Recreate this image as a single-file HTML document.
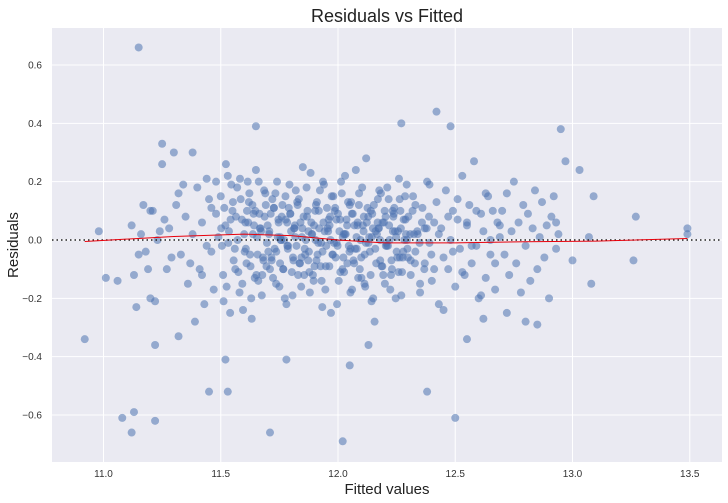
<!DOCTYPE html>
<html><head><meta charset="utf-8">
<style>
html,body{margin:0;padding:0;background:#fff;}
svg{display:block;font-family:"Liberation Sans","DejaVu Sans",sans-serif;}
</style></head>
<body>
<svg id="chart" width="728" height="503" viewBox="0 0 728 503" xmlns="http://www.w3.org/2000/svg">
<rect x="52" y="28" width="670" height="434" fill="#eaeaf2"/>
<g id="grid"></g>
<g id="ticks"></g>
<g id="pts"></g>
<g id="lines"></g>
<text x="387" y="22" text-anchor="middle" font-size="18" fill="#222">Residuals vs Fitted</text>
<text x="387" y="494" text-anchor="middle" font-size="15" fill="#222">Fitted values</text>
<text x="18" y="245" text-anchor="middle" font-size="15" fill="#222" transform="rotate(-90 18 245)">Residuals</text>
</svg>
<script>
const xTicks = [11.0, 11.5, 12.0, 12.5, 13.0, 13.5];
const xTickLabels = ["11.0", "11.5", "12.0", "12.5", "13.0", "13.5"];
const yTicks = [-0.6, -0.4, -0.2, 0.0, 0.2, 0.4, 0.6];
const yTickLabels = ["\u22120.6", "\u22120.4", "\u22120.2", "0.0", "0.2", "0.4", "0.6"];
const fitted = [
11.15,10.92,11.08,11.13,11.12,11.22,11.45,11.53,11.71,12.02,12.38,12.50,12.05,11.52,11.78,12.13,11.22,11.32,11.14,11.22,
10.98,11.01,11.06,11.13,11.25,11.30,11.38,11.65,12.27,12.42,12.48,12.95,13.03,12.97,13.27,13.26,13.49,13.49,13.09,13.08,
13.00,13.07,12.93,12.85,12.80,12.55,12.62,12.72,11.25,
11.31,11.33,11.35,11.36,11.38,11.40,11.41,11.42,11.43,11.44,11.45,11.46,11.47,11.48,11.49,11.34,11.37,11.39,11.42,11.46,
11.28,11.29,11.32,11.44,11.48,11.27,11.26,11.24,11.20,11.18,
11.50,11.51,11.52,11.53,11.54,11.55,11.56,11.57,11.58,11.59,11.60,11.61,11.62,11.63,11.64,11.65,11.66,11.67,11.68,11.69,
11.505,11.515,11.525,11.535,11.545,11.555,11.565,11.575,11.585,11.595,11.605,11.615,11.625,11.635,11.645,11.655,11.665,11.675,11.685,11.695,
11.502,11.512,11.522,11.532,11.542,11.552,11.562,11.572,11.582,11.592,11.602,11.612,11.622,11.632,11.642,11.652,11.662,11.672,11.682,11.692,
11.70,11.71,11.72,11.73,11.74,11.75,11.76,11.77,11.78,11.79,11.80,11.81,11.82,11.83,11.84,11.85,11.86,11.87,11.88,11.89,
11.90,11.91,11.92,11.93,11.94,11.95,11.96,11.97,11.98,11.99,12.00,12.01,12.02,12.03,12.04,12.05,12.06,12.07,12.08,12.09,
12.10,12.11,12.12,12.13,12.14,12.15,12.16,12.17,12.18,12.19,12.20,12.21,12.22,12.23,12.24,12.25,12.26,12.27,12.28,12.29,
11.703,11.713,11.723,11.733,11.743,11.753,11.763,11.773,11.783,11.793,11.803,11.813,11.823,11.833,11.843,11.853,11.863,11.873,11.883,11.893,
11.903,11.913,11.923,11.933,11.943,11.953,11.963,11.973,11.983,11.993,12.003,12.013,12.023,12.033,12.043,12.053,12.063,12.073,12.083,12.093,
12.103,12.113,12.123,12.133,12.143,12.153,12.163,12.173,12.183,12.193,12.203,12.213,12.223,12.233,12.243,12.253,12.263,12.273,12.283,12.293,
11.706,11.716,11.726,11.736,11.746,11.756,11.766,11.776,11.786,11.796,11.806,11.816,11.826,11.836,11.846,11.856,11.866,11.876,11.886,11.896,
11.906,11.916,11.926,11.936,11.946,11.956,11.966,11.976,11.986,11.996,12.006,12.016,12.026,12.036,12.046,12.056,12.066,12.076,12.086,12.096,
12.106,12.116,12.126,12.136,12.146,12.156,12.166,12.176,12.186,12.196,12.206,12.216,12.226,12.236,12.246,12.256,12.266,12.276,12.286,12.296,
12.30,12.31,12.32,12.33,12.34,12.35,12.36,12.37,12.38,12.39,12.40,12.41,12.42,12.43,12.44,12.45,12.46,12.47,12.48,12.49,
12.50,12.51,12.52,12.53,12.54,12.55,12.56,12.57,12.58,12.59,12.60,12.61,12.62,12.63,12.64,12.65,12.66,12.67,12.68,12.69,
12.31,12.33,12.35,12.37,12.39,12.41,12.43,12.45,12.47,12.49,12.51,12.53,12.55,12.57,12.59,12.61,12.63,12.65,12.67,12.69,
12.70,12.71,12.72,12.73,12.74,12.75,12.76,12.77,12.78,12.79,12.80,12.81,12.82,12.83,12.84,12.85,12.86,12.87,12.88,12.89,
12.90,12.91,12.92,12.93,12.94,
11.12,11.15,11.17,11.19,11.21,11.23,11.16,11.20,
11.607,11.617,11.627,11.637,11.647,11.657,11.667,11.677,11.687,11.697,11.707,11.717,11.727,11.737,11.747,11.757,11.767,11.777,11.787,11.797,
11.808,11.818,11.828,11.838,11.848,11.858,11.868,11.878,11.888,11.898,11.908,11.918,11.928,11.938,11.948,11.958,11.968,11.978,11.988,11.998,
12.009,12.019,12.029,12.039,12.049,12.059,12.069,12.079,12.089,12.099,12.109,12.119,12.129,12.139,12.149,12.159,12.169,12.179,12.189,12.199,
12.208,12.218,12.228,12.238,12.248,12.258,12.268,12.278,12.288,12.298,12.308,12.318,12.328,12.338,12.348,12.358,12.368,12.378,12.388,12.398,
11.754,11.784,11.814,11.844,11.874,11.904,11.934,11.964,11.994,12.024,12.054,12.084,12.114,12.144,12.174,12.204,12.234,12.264,12.294,12.324
];
const residuals = [
0.66,-0.34,-0.61,-0.59,-0.66,-0.62,-0.52,-0.52,-0.66,-0.69,-0.52,-0.61,-0.43,-0.41,-0.41,-0.36,-0.36,-0.33,-0.23,-0.21,
0.03,-0.13,-0.14,-0.12,0.26,0.30,0.30,0.39,0.40,0.44,0.39,0.38,0.24,0.27,0.08,-0.07,0.04,0.02,0.15,-0.15,
-0.07,0.01,0.06,-0.29,-0.28,-0.34,-0.27,-0.25,0.33,
0.12,-0.05,0.08,-0.15,0.02,0.18,-0.10,0.06,-0.22,0.21,0.14,-0.04,-0.17,0.09,0.01,0.19,-0.08,-0.28,-0.12,0.11,
0.04,-0.06,0.16,-0.02,0.20,-0.10,0.07,0.03,0.10,-0.04,
0.15,-0.12,0.05,0.22,-0.25,0.10,-0.03,0.18,-0.18,0.07,0.02,-0.08,0.13,-0.20,0.09,0.24,-0.14,0.04,-0.06,0.16,
-0.02,0.11,-0.16,0.03,0.19,-0.07,0.08,-0.11,0.14,-0.24,0.06,0.20,-0.05,0.12,-0.13,0.01,0.09,-0.19,0.17,-0.09,
0.04,-0.21,0.26,-0.01,0.07,0.13,-0.10,0.00,0.21,-0.15,-0.04,0.10,0.16,-0.27,0.05,-0.12,0.20,0.03,-0.07,0.12,
0.05,-0.10,0.14,-0.03,0.20,-0.16,0.08,0.00,-0.22,0.11,0.03,-0.07,0.17,-0.12,0.06,0.25,-0.05,0.10,-0.18,0.02,
-0.09,0.13,0.04,-0.14,0.19,-0.02,0.07,-0.25,0.15,-0.06,0.09,-0.11,0.01,0.22,-0.08,0.12,-0.17,0.05,-0.03,0.16,
-0.13,0.08,0.28,-0.01,0.10,-0.20,0.03,0.14,-0.07,0.06,-0.15,0.18,0.00,-0.10,0.11,-0.04,0.21,-0.19,0.07,0.02,
-0.04,0.09,-0.13,0.16,0.01,-0.08,0.12,-0.20,0.06,0.19,-0.11,0.04,-0.02,0.14,-0.16,0.08,0.00,-0.07,0.23,-0.12,
0.10,-0.05,0.17,-0.23,0.03,0.11,-0.09,0.15,-0.01,0.07,-0.14,0.20,-0.06,0.02,0.13,-0.18,0.09,-0.03,0.05,-0.10,
0.18,-0.15,0.06,0.01,-0.21,0.12,-0.08,0.04,0.16,-0.12,0.08,-0.02,-0.17,0.10,0.03,-0.06,0.14,-0.11,0.00,0.19,
0.02,-0.06,0.11,-0.15,0.07,0.00,-0.10,0.15,-0.03,0.09,-0.19,0.05,0.13,-0.08,0.01,-0.12,0.18,-0.04,0.06,-0.14,
0.12,-0.01,-0.09,0.20,-0.17,0.04,0.08,-0.05,0.10,-0.22,0.03,0.16,-0.11,0.07,-0.02,0.13,-0.07,0.24,-0.13,0.00,
0.05,-0.16,0.11,-0.04,0.09,-0.28,0.02,0.17,-0.09,0.06,-0.01,0.14,-0.12,0.08,-0.20,0.03,0.10,-0.06,0.15,-0.03,
0.08,-0.12,0.15,-0.04,0.02,-0.18,0.11,-0.08,0.20,-0.01,-0.14,0.06,0.13,-0.22,0.04,-0.06,0.17,-0.10,0.00,0.10,
-0.16,0.07,-0.03,0.22,-0.12,0.05,0.12,-0.08,0.27,-0.02,-0.20,0.09,0.03,-0.13,0.15,-0.05,0.10,-0.17,0.06,0.01,
-0.07,0.12,-0.15,0.04,0.19,-0.10,0.02,-0.24,0.08,-0.04,0.14,-0.11,0.06,-0.02,0.10,-0.19,0.16,0.00,-0.08,0.05,
0.10,-0.05,0.16,-0.12,0.03,0.20,-0.08,0.06,-0.18,0.12,-0.02,0.09,-0.14,0.04,0.17,-0.10,0.01,0.13,-0.06,0.05,
-0.20,0.08,0.15,-0.03,0.02,
0.05,-0.05,0.12,-0.10,0.10,0.00,0.02,-0.20,
-0.03,0.06,-0.09,0.02,0.10,-0.05,0.04,-0.12,0.08,-0.01,0.03,-0.07,0.11,-0.04,0.06,0.00,-0.10,0.07,-0.02,0.09,
-0.06,0.01,0.12,-0.08,0.04,-0.03,0.08,-0.11,0.02,0.05,-0.07,0.10,-0.01,0.06,-0.09,0.03,0.00,-0.05,0.11,-0.02,
0.07,-0.10,0.02,0.05,-0.04,0.09,-0.08,0.01,0.12,-0.06,0.03,-0.01,0.08,-0.12,0.04,-0.03,0.06,0.00,-0.09,0.10,
-0.02,0.05,-0.07,0.09,0.01,-0.11,0.04,-0.04,0.07,-0.06,0.02,0.10,-0.08,0.03,-0.01,0.06,-0.10,0.04,0.08,-0.05,
0.01,-0.02,0.04,-0.06,0.03,0.00,-0.04,0.05,-0.01,0.02,-0.03,0.06,-0.05,0.01,0.04,-0.02,0.03,-0.06,0.00,0.02
];
const lowessX = [10.92, 11.3, 11.6, 11.8, 12.0, 12.2, 12.5, 12.8, 13.1, 13.49];
const lowessY = [-0.005, 0.012, 0.02, 0.015, 0.0, -0.01, -0.01, -0.006, -0.004, 0.005];

const L=52,R=722,T=28,B=462;
const sx = v => 103.5 + (v - 11.0) * 234.5;
const sy = v => 240 - v * 291.7;
const NS="http://www.w3.org/2000/svg";
function mk(tag, attrs, parent){const e=document.createElementNS(NS,tag);for(const k in attrs)e.setAttribute(k,attrs[k]);parent.appendChild(e);return e;}
const grid=document.getElementById('grid'), ticks=document.getElementById('ticks');
xTicks.forEach((t,i)=>{
  const g=mk('line',{x1:sx(t),x2:sx(t),y1:T,y2:B,stroke:'#fff','stroke-width':1},grid);
  
  
  const tx=mk('text',{x:sx(t),y:B+15,'text-anchor':'middle','font-size':10,fill:'#333'},ticks);
  tx.textContent=xTickLabels[i];
  
  
});
yTicks.forEach((t,i)=>{
  const g=mk('line',{x1:L,x2:R,y1:sy(t),y2:sy(t),stroke:'#fff','stroke-width':1},grid);
  
  
  const tx=mk('text',{x:L-10,y:sy(t)+3.5,'text-anchor':'end','font-size':10,fill:'#333'},ticks);
  tx.textContent=yTickLabels[i];
  
  
});
const pts=document.getElementById('pts');
for(let i=0;i<fitted.length;i++){
  const c=mk('circle',{cx:sx(fitted[i]),cy:sy(residuals[i]),r:4,fill:'#4c72b0','fill-opacity':0.55},pts);
  
  
}
const lines=document.getElementById('lines');
const zl=mk('line',{x1:L,x2:R,y1:sy(0),y2:sy(0),stroke:'#222','stroke-width':1.6,'stroke-dasharray':'1.5,3'},lines);


const lw=mk('polyline',{points:lowessX.map((x,i)=>sx(x)+','+sy(lowessY[i])).join(' '),fill:'none',stroke:'#e8000b','stroke-width':1},lines);


</script>
</body></html>
